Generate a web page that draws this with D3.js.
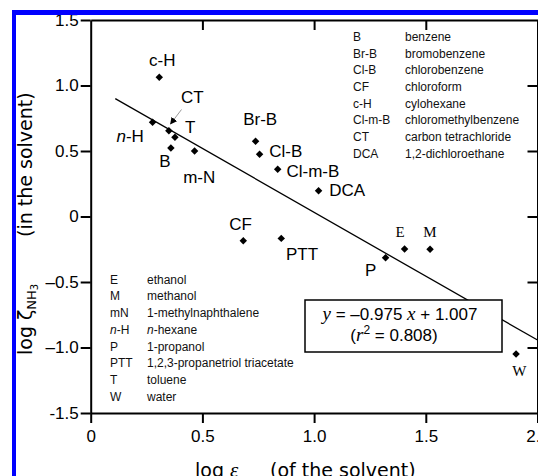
<!DOCTYPE html>
<html>
<head>
<meta charset="utf-8">
<script src="https://cdn.jsdelivr.net/npm/d3@7"></script>
<style>
  body { margin: 0; background: #fff; }
  svg { display: block; }
  .tick-lbl { font-family: "Liberation Sans", Arial, sans-serif; font-size: 17px; }
  .pt-lbl { font-family: "Liberation Sans", Arial, sans-serif; font-size: 17px; }
  .serif-lbl { font-family: "Liberation Serif", "Times New Roman", serif; font-size: 15px; }
  .leg { font-family: "Liberation Sans", Arial, sans-serif; font-size: 12px; fill: #111; }
  .title { font-family: "DejaVu Sans", Verdana, sans-serif; font-size: 19px; }
</style>
</head>
<body>
<div id="chart"></div>
<script>
// solvents: abbreviation, log eps_r, log zeta_NH3
var codes   = ["c-H", "n-H", "CT", "T", "B", "m-N", "Br-B", "Cl-B", "Cl-m-B", "DCA", "CF", "PTT", "P", "E", "M", "W"];
var logEps  = [0.307, 0.277, 0.350, 0.377, 0.359, 0.465, 0.738, 0.756, 0.837, 1.020, 0.683, 0.853, 1.320, 1.405, 1.519, 1.904];
var logZeta = [1.063, 0.719, 0.655, 0.605, 0.523, 0.500, 0.574, 0.475, 0.360, 0.197, -0.185, -0.167, -0.314, -0.248, -0.250, -1.05];

// fit
var slope = -0.975, intercept = 1.007, r2 = 0.808;
var fitRange = [0.11, 2.0];

var xTicks = [0, 0.5, 1.0, 1.5, 2.0];
var xTickLabels = ["0", "0.5", "1.0", "1.5", "2.0"];
var yTicks = [1.5, 1.0, 0.5, 0, -0.5, -1.0, -1.5];
var yTickLabels = ["1.5", "1.0", "0.5", "0", "\u20130.5", "\u20131.0", "-1.5"];

var legendTopAbbr = ["B", "Br-B", "Cl-B", "CF", "c-H", "Cl-m-B", "CT", "DCA"];
var legendTopName = ["benzene", "bromobenzene", "chlorobenzene", "chloroform", "cylohexane", "chloromethylbenzene", "carbon tetrachloride", "1,2-dichloroethane"];
var legendBotAbbr = ["E", "M", "mN", "n-H", "P", "PTT", "T", "W"];
var legendBotName = ["ethanol", "methanol", "1-methylnaphthalene", "n-hexane", "1-propanol", "1,2,3-propanetriol triacetate", "toluene", "water"];

var W = 538, H = 476;
var plotL = 90.7, plotR = 537.5, plotT = 20, plotB = 413;

var svg = d3.select("#chart").append("svg").attr("width", W).attr("height", H);

var x = d3.scaleLinear().domain([0, 2]).range([plotL, plotR]);
var y = d3.scaleLinear().domain([-1.5, 1.5]).range([plotB, plotT]);

// axes
function styleAxis(g) {
    g.select(".domain").attr("stroke", "#000").attr("stroke-width", 2);
    g.selectAll(".tick line").attr("stroke", "#000").attr("stroke-width", 2);
}

svg.append("g").attr("transform", "translate(0," + plotB + ")")
    .call(d3.axisBottom(x).tickValues(xTicks).tickSize(10).tickSizeOuter(0).tickPadding(7)
        .tickFormat(function(d, i){ return xTickLabels[i]; }))
    .call(styleAxis)
    .selectAll("text").attr("class", "tick-lbl").attr("fill", "#000").attr("font-size", null).attr("font-family", null);

svg.append("g").attr("transform", "translate(0," + plotT + ")")
    .call(d3.axisTop(x).tickValues(xTicks.slice(1, 4)).tickSize(-10).tickSizeOuter(0).tickFormat(""))
    .call(styleAxis);

svg.append("g").attr("transform", "translate(" + plotL + ",0)")
    .call(d3.axisLeft(y).tickValues(yTicks).tickSize(10).tickSizeOuter(0).tickPadding(2)
        .tickFormat(function(d, i){ return yTickLabels[i]; }))
    .call(styleAxis)
    .selectAll("text").attr("class", "tick-lbl").attr("fill", "#000").attr("font-size", null).attr("font-family", null);

svg.append("g").attr("transform", "translate(" + plotR + ",0)")
    .call(d3.axisRight(y).tickValues(yTicks.slice(1, 6)).tickSize(-10).tickSizeOuter(0).tickFormat(""))
    .call(styleAxis);

// regression line
svg.append("line")
    .attr("x1", x(fitRange[0])).attr("y1", y(slope * fitRange[0] + intercept))
    .attr("x2", x(fitRange[1])).attr("y2", y(slope * fitRange[1] + intercept))
    .attr("stroke", "#000").attr("stroke-width", 1.3);

// equation box
var box = svg.append("g");
box.append("rect").attr("x", 305).attr("y", 300).attr("width", 197).attr("height", 52)
    .attr("fill", "#fff").attr("stroke", "#000").attr("stroke-width", 1.5);
var eq1 = box.append("text").attr("class", "pt-lbl").attr("x", 400).attr("y", 319.5).attr("text-anchor", "middle");
eq1.append("tspan").attr("font-family", "Liberation Serif, serif").attr("font-style", "italic").attr("font-size", 19).text("y");
eq1.append("tspan").text(" = \u2013" + Math.abs(slope).toFixed(3) + " ");
eq1.append("tspan").attr("font-family", "Liberation Serif, serif").attr("font-style", "italic").attr("font-size", 19).text("x");
eq1.append("tspan").text(" + " + intercept.toFixed(3));
var eq2 = box.append("text").attr("class", "pt-lbl").attr("x", 394).attr("y", 341).attr("text-anchor", "middle");
eq2.append("tspan").text("(");
eq2.append("tspan").attr("font-family", "Liberation Serif, serif").attr("font-style", "italic").attr("font-size", 19).text("r");
eq2.append("tspan").attr("font-size", 12).attr("dy", -7).text("2");
eq2.append("tspan").attr("dy", 7).text(" = " + r2.toFixed(3) + ")");

// points
var pts = codes.map(function(c, i){ return {code: c, x: logEps[i], y: logZeta[i]}; });
var diamond = d3.symbol().type(d3.symbolSquare).size(28);
svg.selectAll(".pt").data(pts).enter().append("path")
    .attr("class", "pt")
    .attr("d", diamond)
    .attr("transform", function(d){ return "translate(" + x(d.x) + "," + y(d.y) + ") rotate(45)"; })
    .attr("fill", "#000");

// label placement (pixel offsets from the point)
var labelPos = {
    "c-H": [3, -11.6, "middle"], "n-H": [-8.7, 19.4, "end"], "CT": [12, -27.4, "start"],
    "T": [10, -4, "start"], "B": [-6, 18.7, "middle"], "m-N": [-11.4, 32.3, "start"],
    "Br-B": [-12.4, -16.3, "start"], "Cl-B": [9.6, 2.4, "start"], "Cl-m-B": [8.8, 7.4, "start"],
    "DCA": [10.6, 5, "start"], "CF": [-14, -10.7, "start"], "PTT": [4.7, 21.7, "start"],
    "P": [-20.7, 18.3, "start"], "E": [-9, -11.7, "start"], "M": [-6.7, -12, "start"],
    "W": [-3.7, 22, "start"]
};
var serifCodes = ["E", "M", "W"];

pts.forEach(function(d){
    var p = labelPos[d.code];
    var t = svg.append("text")
        .attr("class", serifCodes.indexOf(d.code) >= 0 ? "serif-lbl" : "pt-lbl")
        .attr("x", x(d.x) + p[0]).attr("y", y(d.y) + p[1])
        .attr("text-anchor", p[2]);
    if (d.code == "n-H") {
        t.append("tspan").attr("font-style", "italic").text("n");
        t.append("tspan").text("-H");
    } else {
        t.text(d.code);
    }
});

// CT arrow
svg.append("defs").append("marker")
    .attr("id", "ah").attr("viewBox", "0 0 10 10").attr("refX", 9).attr("refY", 5)
    .attr("markerWidth", 7).attr("markerHeight", 7).attr("markerUnits", "userSpaceOnUse")
    .attr("orient", "auto")
    .append("path").attr("d", "M0,0L10,5L0,10Z").attr("fill", "#000");
svg.append("line")
    .attr("x1", 181.5).attr("y1", 109.5).attr("x2", 170.5).attr("y2", 124)
    .attr("stroke", "#999").attr("stroke-width", 1).attr("marker-end", "url(#ah)");

// legends
var legTop = svg.append("g");
legendTopAbbr.forEach(function(a, i){
    legTop.append("text").attr("class", "leg").attr("x", 353).attr("y", 41 + i * 16.65).text(a);
    legTop.append("text").attr("class", "leg").attr("x", 405).attr("y", 41 + i * 16.65).text(legendTopName[i]);
});

var legBot = svg.append("g");
legendBotAbbr.forEach(function(a, i){
    var ya = 283.6 + i * 16.75;
    var ta = legBot.append("text").attr("class", "leg").attr("x", 110).attr("y", ya);
    var tn = legBot.append("text").attr("class", "leg").attr("x", 147).attr("y", ya);
    if (a == "n-H") {
        ta.append("tspan").attr("font-style", "italic").text("n");
        ta.append("tspan").text("-H");
        tn.append("tspan").attr("font-style", "italic").text("n");
        tn.append("tspan").text("-hexane");
    } else {
        ta.text(a);
        tn.text(legendBotName[i]);
    }
});

// axis titles
var xt = svg.append("text").attr("class", "title").attr("x", 195).attr("y", 477);
xt.append("tspan").text("log ");
xt.append("tspan").attr("font-family", "Liberation Serif, serif").attr("font-style", "italic").attr("font-size", 21).text("\u03b5");
xt.append("tspan").attr("font-size", 13).attr("dy", 9).text("r");
svg.append("text").attr("class", "title").attr("x", 270).attr("y", 477).text("(of the solvent)");

var yt = svg.append("text").attr("class", "title")
    .attr("transform", "translate(31.5,355) rotate(-90)");
yt.append("tspan").text("log ");
yt.append("tspan").attr("font-size", 19).text("\u03b6");
yt.append("tspan").attr("font-size", 13).attr("dy", 4).text("NH");
yt.append("tspan").attr("font-size", 10).attr("dy", 2).text("3");
svg.append("text").attr("class", "title")
    .attr("transform", "translate(31.5,237) rotate(-90)").text("(in the solvent)");

// blue frame
svg.append("rect").attr("x", 12).attr("y", 10).attr("width", W - 12).attr("height", 5).attr("fill", "#0000ff");
svg.append("rect").attr("x", 12).attr("y", 10).attr("width", 4).attr("height", H - 10).attr("fill", "#0000ff");
</script>
</body>
</html>
